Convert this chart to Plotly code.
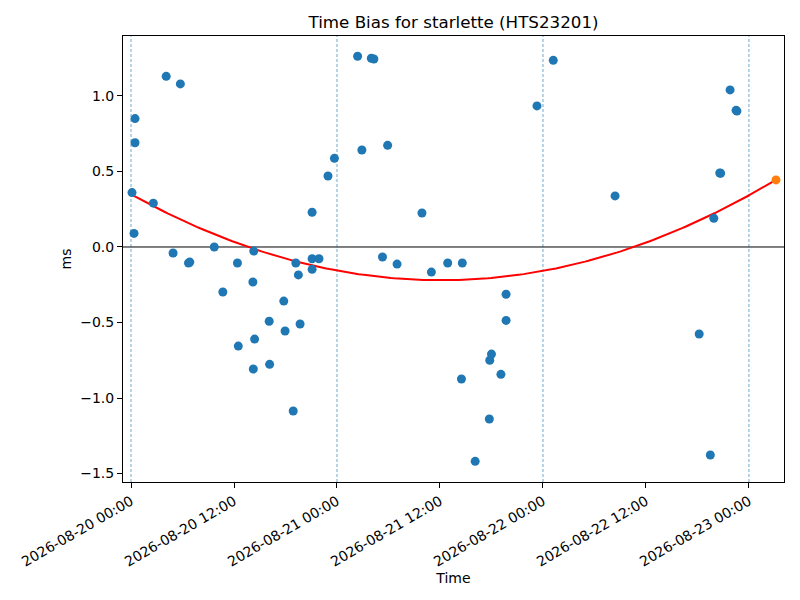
import numpy as np
import pandas as pd
import plotly.graph_objects as go

# measured time bias points (ms)
times = [
    "2026-08-20 00:07", "2026-08-20 00:28", "2026-08-20 00:28", "2026-08-20 00:21",
    "2026-08-20 02:36", "2026-08-20 04:06", "2026-08-20 04:54", "2026-08-20 05:45",
    "2026-08-20 06:42", "2026-08-20 06:51", "2026-08-20 09:42", "2026-08-20 10:42",
    "2026-08-20 12:24", "2026-08-20 12:30", "2026-08-20 14:12", "2026-08-20 14:15",
    "2026-08-20 14:18", "2026-08-20 14:24", "2026-08-20 16:06", "2026-08-20 16:09",
    "2026-08-20 17:48", "2026-08-20 17:57", "2026-08-20 18:54", "2026-08-20 19:12",
    "2026-08-20 19:30", "2026-08-20 19:42", "2026-08-20 21:06", "2026-08-20 21:06",
    "2026-08-20 21:06", "2026-08-20 21:54", "2026-08-20 22:57", "2026-08-20 23:42",
    "2026-08-21 02:24", "2026-08-21 02:54", "2026-08-21 04:00", "2026-08-21 04:18",
    "2026-08-21 05:18", "2026-08-21 05:54", "2026-08-21 07:00", "2026-08-21 09:54",
    "2026-08-21 11:00", "2026-08-21 12:54", "2026-08-21 14:30", "2026-08-21 14:36",
    "2026-08-21 16:06", "2026-08-21 17:45", "2026-08-21 17:48", "2026-08-21 18:00",
    "2026-08-21 19:06", "2026-08-21 19:42", "2026-08-21 19:42", "2026-08-21 23:18",
    "2026-08-22 01:12", "2026-08-22 08:24", "2026-08-22 18:12", "2026-08-22 19:30",
    "2026-08-22 19:54", "2026-08-22 20:36", "2026-08-22 20:42", "2026-08-22 21:48",
    "2026-08-22 22:30", "2026-08-22 22:36",
]
bias = [
    0.36, 0.85, 0.69, 0.09,
    0.29, 1.13, -0.04, 1.08,
    -0.106, -0.10, 0.0, -0.298,
    -0.106, -0.656, -0.232, -0.808,
    -0.027, -0.61, -0.492, -0.777,
    -0.358, -0.556, -1.086, -0.106,
    -0.185, -0.51, 0.23, -0.078,
    -0.148, -0.078, 0.47, 0.587,
    1.263, 0.642, 1.25, 1.245,
    -0.066, 0.673, -0.113, 0.225,
    -0.166, -0.106, -0.874, -0.106,
    -1.419, -1.139, -0.75, -0.709,
    -0.843, -0.313, -0.486, 0.934,
    1.236, 0.338, -0.576, -1.377,
    0.19, 0.49, 0.488, 1.04,
    0.905, 0.90,
]

# predicted point
pred_time = ["2026-08-23 03:09"]
pred_bias = [0.444]

# quadratic fit: a*(h-h0)^2 + c, h = hours since start
t_start = pd.Timestamp("2026-08-20 00:07")
fit_a, fit_h0, fit_c = 4.364e-4, 36.0, -0.22

day_lines = ["2026-08-20", "2026-08-21", "2026-08-22", "2026-08-23"]

h = np.linspace(0, (pd.Timestamp(pred_time[0]) - t_start).total_seconds() / 3600, 200)
fit_t = t_start + pd.to_timedelta(h, unit="h")
fit_y = fit_a * (h - fit_h0) ** 2 + fit_c

fig = go.Figure()
fig.add_trace(go.Scatter(x=fit_t, y=fit_y, mode="lines",
                         line=dict(color="red", width=2)))
fig.add_trace(go.Scatter(x=times, y=bias, mode="markers",
                         marker=dict(color="#1f77b4", size=9, line=dict(width=0))))
fig.add_trace(go.Scatter(x=pred_time, y=pred_bias, mode="markers",
                         marker=dict(color="#ff7f0e", size=9, line=dict(width=0))))

for d in day_lines:
    fig.add_vline(x=pd.Timestamp(d).timestamp() * 1000, layer="below",
                  line=dict(color="rgba(31,119,180,0.8)", width=0.8, dash="3px,2px"))
fig.add_hline(y=0, layer="below", line=dict(color="black", width=1))

fig.update_layout(
    width=800, height=600,
    margin=dict(l=115, r=24, t=28, b=126),
    paper_bgcolor="white", plot_bgcolor="white",
    showlegend=False,
    font=dict(family="DejaVu Sans", size=14, color="black"),
    title=dict(text="Time Bias for starlette (HTS23201)", xref="paper", x=0.5,
               xanchor="center", y=0.977, yanchor="middle", font=dict(size=16.7)),
    xaxis=dict(
        title=dict(text="Time", standoff=4, font=dict(size=14)),
        automargin=False,
        range=["2026-08-19 23:04", "2026-08-23 04:05"],
        tick0="2026-08-20 00:00", dtick=12 * 3600 * 1000,
        tickformat="%Y-%m-%d %H:%M", tickangle=-30,
        showgrid=False, zeroline=False,
        showline=True, linecolor="black", linewidth=1, mirror=True,
        ticks="outside", ticklen=5, tickcolor="black",
    ),
    yaxis=dict(
        title=dict(text="ms", standoff=5, font=dict(size=14)),
        automargin=False,
        range=[-1.556, 1.397],
        tickvals=[-1.5, -1.0, -0.5, 0.0, 0.5, 1.0],
        ticktext=["\u22121.5", "\u22121.0", "\u22120.5", "0.0", "0.5", "1.0"],
        showgrid=False, zeroline=False,
        showline=True, linecolor="black", linewidth=1, mirror=True,
        ticks="outside", ticklen=5, tickcolor="black",
    ),
)

fig.write_html("out.html")
